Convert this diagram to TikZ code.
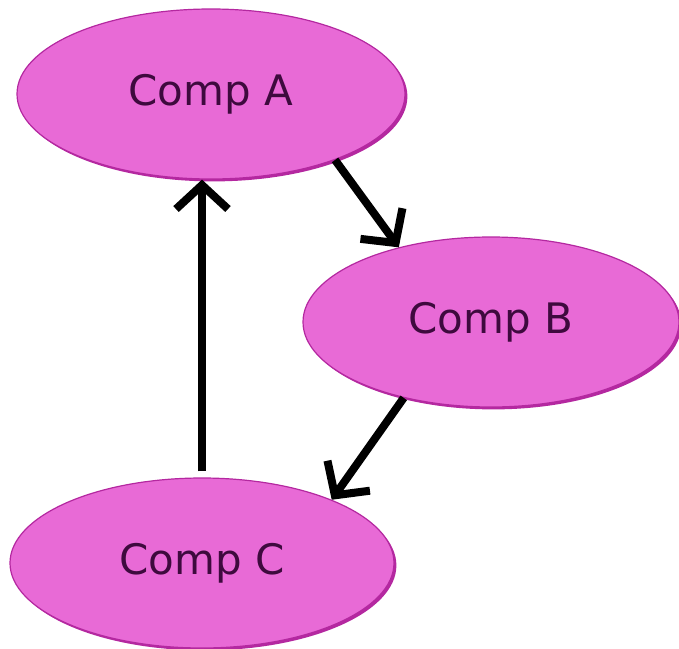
\documentclass[tikz,border=0pt]{standalone}
\usepackage{fontspec}
\setmainfont{DejaVu Sans}
\usepackage{tikz}
\usetikzlibrary{shapes.geometric, arrows.meta, shadows, positioning}
\definecolor{compfill}{RGB}{232,106,214}
\definecolor{compedge}{RGB}{180,40,160}
\definecolor{comptext}{RGB}{62,10,62}
\tikzstyle{comp} = [ellipse, 
minimum width=192pt, 
minimum height=85pt, 
inner sep=0pt,
text centered, 
draw=compedge, 
line width=0.6pt,
fill=compfill,
text=comptext,
font=\fontsize{21}{25}\selectfont,
general shadow={fill=compedge, shadow xshift=1.2pt, shadow yshift=-1.2pt}]
\tikzstyle{arrow} = [line width=4pt,-{Straight Barb[length=12pt,width=26pt]}]

\begin{document}
\begin{tikzpicture} [x=0.5pt, y=-0.5pt, node distance=2cm]
		\useasboundingbox (0,0) rectangle (679,648);
		\node (compA) [comp, minimum width=194pt] at (211,94) {Comp A};
		\node (compB) [comp, below of=compA, node distance=114pt, xshift=140pt, minimum width=188pt] {Comp B};
		\node (compC) [comp, below of=compA, node distance=234.5pt, xshift=-4.5pt] {Comp C};
		\draw [arrow] (compA.-28) -- (compB.141);
		\draw [arrow] (compB.-139) -- (compC.26);
		\draw [arrow] ([yshift=3pt]compC.north) -- (compA.south -| compC.north);
	\end{tikzpicture}
\end{document}
